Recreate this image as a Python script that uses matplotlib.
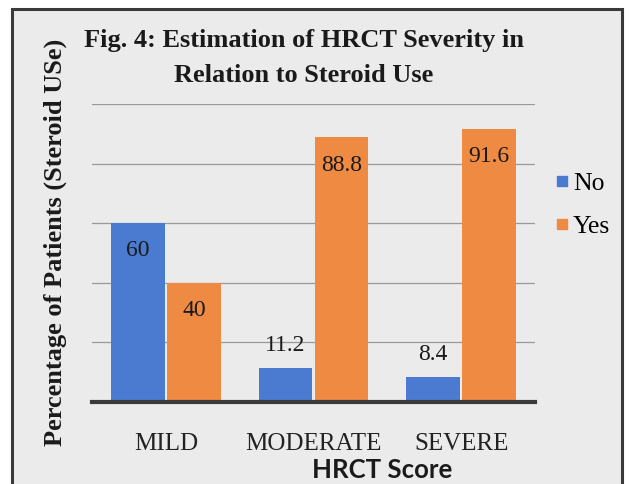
"""HRCT severity grouped by steroid use"""
import numpy as np
import matplotlib
matplotlib.use("Agg")
import matplotlib.pyplot as plt
from matplotlib.patches import Rectangle
from matplotlib.lines import Line2D

categories = ["MILD", "MODERATE", "SEVERE"]
no_steroid = [60, 11.2, 8.4]
yes_steroid = [40, 88.8, 91.6]
series_names = ["No", "Yes"]

BLUE = "#4a7bd0"
ORANGE = "#ef8a43"
SERIF = "Liberation Serif"

fig = plt.figure(figsize=(6.31, 4.84), dpi=100, facecolor="white")

# grey panel with dark frame (bottom edge runs off the page)
fig.patches.append(Rectangle((12 / 631, -0.05), 610 / 631, 1.05 - 9 / 484,
                             transform=fig.transFigure, facecolor="#ebebeb",
                             edgecolor="#3a3a3a", linewidth=2.2, zorder=-10))

ax = fig.add_axes([92 / 631, 82.5 / 484, 443 / 631, 297.5 / 484])
ax.set_facecolor("none")

ind = np.arange(len(categories))
width = 0.365
off = width / 2 + 0.007
b_no = ax.bar(ind - off, no_steroid, width, color=BLUE, zorder=3)
b_yes = ax.bar(ind + off, yes_steroid, width, color=ORANGE, zorder=3)

ax.set_xlim(-0.5, 2.5)
ax.set_ylim(0, 100)
ax.set_yticks(np.arange(0, 101, 20))
ax.yaxis.grid(True, color="#999999", linewidth=0.9, zorder=1)
ax.set_yticklabels([])
ax.tick_params(axis="y", length=0)
ax.tick_params(axis="x", length=0, pad=23)
ax.set_xticks(ind)
ax.set_xticklabels(categories, fontfamily=SERIF, fontsize=18, color="#222222")
for side in ("top", "right", "left"):
    ax.spines[side].set_visible(False)
ax.spines["bottom"].set_color("#3a3a3a")
ax.spines["bottom"].set_linewidth(3)
ax.spines["bottom"].set_zorder(4)

# value labels: inside the bar top for tall bars, above it for short ones
for rects in (b_no, b_yes):
    for rect in rects:
        h = rect.get_height()
        x = rect.get_x() + rect.get_width() / 2
        dy = -20 if h > 20 else 16
        ax.annotate("%g" % h, (x, h), xytext=(0, dy), textcoords="offset points",
                    ha="center", va="center", fontfamily=SERIF, fontsize=17,
                    color="#1a1a1a", zorder=5)

fig.text(304 / 631, 1 - 40 / 484, "Fig. 4: Estimation of HRCT Severity in",
         ha="center", va="center", fontfamily=SERIF, fontweight="bold",
         fontsize=19, color="#1a1a1a")
fig.text(304 / 631, 1 - 76 / 484, "Relation to Steroid Use",
         ha="center", va="center", fontfamily=SERIF, fontweight="bold",
         fontsize=19, color="#1a1a1a")

fig.text(55 / 631, 1 - 242 / 484, "Percentage of Patients (Steroid USe)",
         rotation=90, ha="center", va="center", fontfamily=SERIF,
         fontweight="bold", fontsize=19, color="#1a1a1a")

fig.text(382 / 631, 1 - 470 / 484, "HRCT Score", ha="center", va="center",
         fontfamily="Lato", fontweight="bold", fontsize=18.5, color="#1a1a1a")

handles = [Line2D([], [], marker="s", linestyle="none", markersize=7,
                  color=c) for c in (BLUE, ORANGE)]
fig.legend(handles, series_names, loc="center left",
           bbox_to_anchor=(541 / 631, 1 - 205 / 484), frameon=False,
           prop={"family": SERIF, "size": 18.5}, handletextpad=0.05,
           labelspacing=0.8, handlelength=0.8, borderaxespad=0)

fig.savefig("out.png", dpi=100, facecolor=fig.get_facecolor())
